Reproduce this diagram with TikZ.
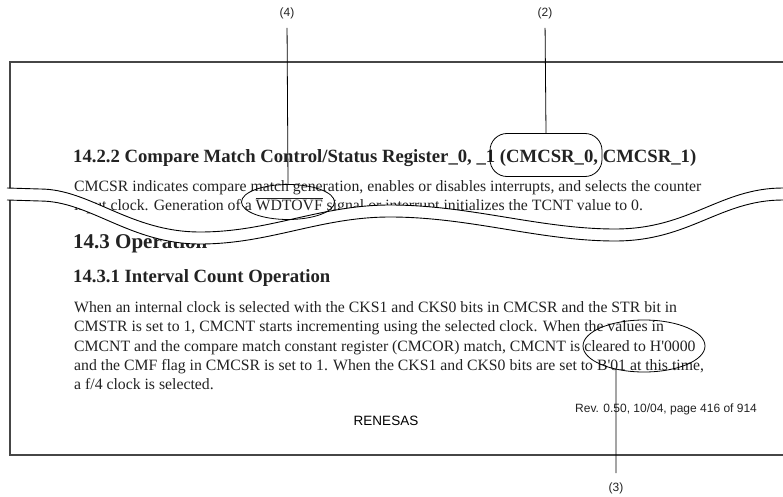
\documentclass[tikz,border=0pt]{standalone}
\usepackage{fontspec}
\setmainfont{Liberation Serif}
\setsansfont{Liberation Sans}
\definecolor{pageedge}{RGB}{70, 70, 70}
\definecolor{inkgray}{RGB}{35, 35, 35}
\usetikzlibrary{shapes.geometric, positioning, calc}

\begin{document}
\begin{tikzpicture}[
  x=1pt, y=-1pt,
  secthead/.style={anchor=base west, inner sep=0pt, text=inkgray, font=\bfseries\fontsize{18.7}{19}\selectfont},
  bodytext/.style={anchor=base west, inner sep=0pt, text=inkgray, font=\fontsize{15.75}{19}\selectfont},
  tagtext/.style={inner sep=1pt, text=inkgray, font=\sffamily\fontsize{12}{12}\selectfont},
  ringmark/.style={draw, ellipse, inner sep=0pt, line width=0.8pt},
  leadline/.style={line width=0.8pt, shorten <=8pt},
  brkline/.style={line width=0.9pt}
]
  \useasboundingbox (0,0) rectangle (783,497);
  \fill[white] (0,0) rectangle (783,497);
  \draw[pageedge, line width=1.2pt] (783,62) -- (10,62) -- (10,455) -- (783,455);

  \node[secthead] (h222) at (73,162) {14.2.2 Compare Match Control/Status Register\_0, \_1 (CMCSR\_0, CMCSR\_1)};
  \node[bodytext] (cm1) at (74,191) {CMCSR indicates compare match generation, enables or disables interrupts, and selects the counter};
  \node[bodytext] (cm2) at (74,210) {input clock. Generation of a $\overline{\mbox{WDTOVF}}$ signal or interrupt initializes the TCNT value to 0.};
  \node[secthead, font=\bfseries\fontsize{21}{21}\selectfont] (h143) at (73,248) {14.3 Operation};
  \node[secthead] (h1431) at (73,282) {14.3.1 Interval Count Operation};
  \node[bodytext] (op1) at (74,312) {When an internal clock is selected with the CKS1 and CKS0 bits in CMCSR and the STR bit in};
  \node[bodytext] (op2) at (74,331) {CMSTR is set to 1, CMCNT starts incrementing using the selected clock. When the values in};
  \node[bodytext] (op3) at (74,351) {CMCNT and the compare match constant register (CMCOR) match, CMCNT is cleared to H\textquotesingle 0000};
  \node[bodytext] (op4) at (74,370) {and the CMF flag in CMCSR is set to 1. When the CKS1 and CKS0 bits are set to B\textquotesingle 01 at this time,};
  \node[bodytext] (op5) at (74,389) {a f/4 clock is selected.};
  \node[anchor=base west, inner sep=0pt, text=inkgray, font=\sffamily\fontsize{12}{12}\selectfont] (rev) at (575,412) {Rev. 0.50, 10/04, page 416 of 914};
  \node[inner sep=0pt, text=black, font=\sffamily\fontsize{13.5}{13.5}\selectfont] (logo) at (386,421) {RENESAS};

  \fill[white] (7,188) -- (40,189) .. controls (90,189) and (130,232) .. (200,232)
    .. controls (270,232) and (320,205) .. (390,205) .. controls (470,205) and (540,229) .. (615,229)
    .. controls (690,229) and (720,188) .. (783,188) -- (783,200)
    .. controls (720,200) and (690,241) .. (615,241) .. controls (540,241) and (470,217) .. (390,217)
    .. controls (320,217) and (270,244) .. (200,244) .. controls (130,244) and (90,201) .. (40,201) -- (7,200) -- cycle;
  \foreach \dy in {0,12}
    \draw[brkline, shift={(0,\dy)}] (7,188) -- (40,189) .. controls (90,189) and (130,232) .. (200,232)
      .. controls (270,232) and (320,205) .. (390,205) .. controls (470,205) and (540,229) .. (615,229)
      .. controls (690,229) and (720,188) .. (783,188);

  \node[ringmark, minimum width=93pt, minimum height=35pt] (ring4) at (288,202) {};
  \node[draw, rounded corners=17pt, inner sep=0pt, line width=0.8pt, minimum width=112pt, minimum height=43pt] (ring2) at (546,155) {};
  \node[ringmark, minimum width=122pt, minimum height=52pt] (ring3) at (644,346) {};

  \node[tagtext] (tag4) at (287,13) {(4)};
  \node[tagtext] (tag2) at (545,13) {(2)};
  \node[tagtext] (tag3) at (616,488) {(3)};

  \draw[leadline] (tag4.south) -- (ring4.north);
  \draw[leadline] (tag2.south) -- (ring2.north);
  \draw[leadline] (tag3.north) -- (ring3.220);
\end{tikzpicture}
\end{document}
